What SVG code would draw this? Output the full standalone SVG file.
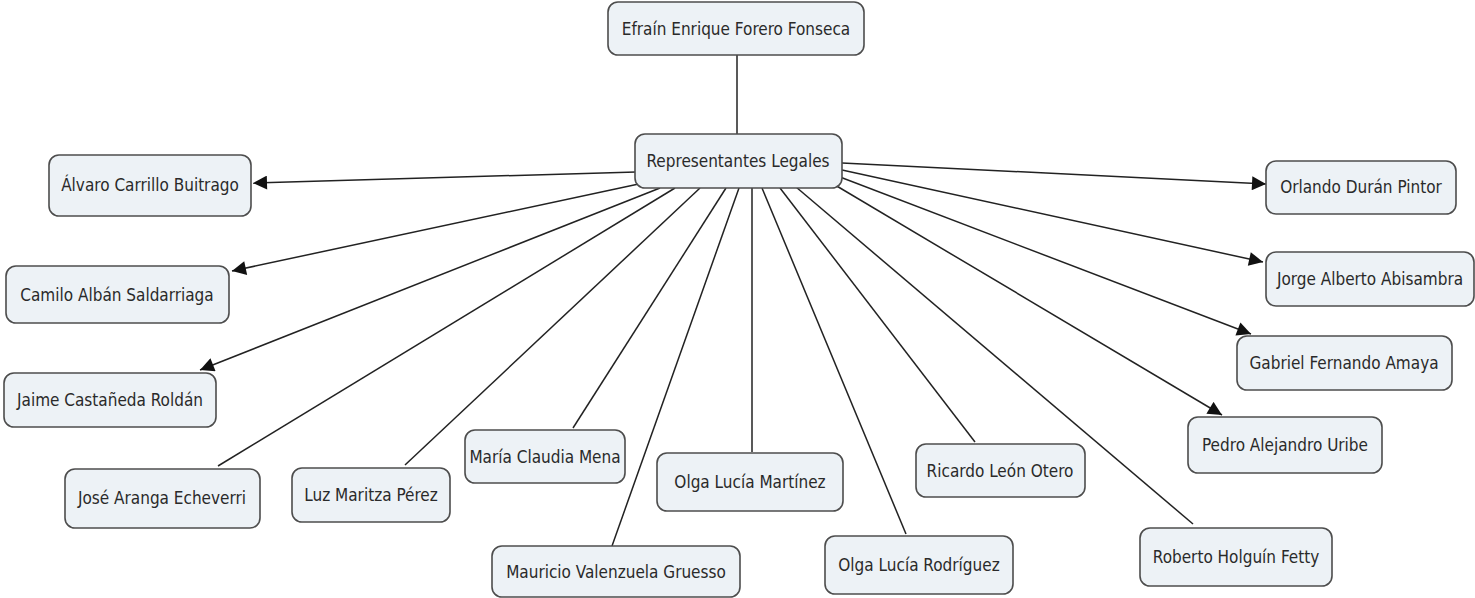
<svg xmlns="http://www.w3.org/2000/svg" width="1475" height="598" viewBox="0 0 1475 598">
<style>
.n rect{fill:#edf2f6;stroke:#4d4d4d;stroke-width:1.6}
.n text{font-family:"DejaVu Sans Condensed","DejaVu Sans",sans-serif;font-size:17px;fill:#2a2a2a;text-anchor:middle;dominant-baseline:central}
.c line{stroke:#222;stroke-width:1.5}
</style>
<defs>
<marker id="ah" viewBox="0 0 10 10" refX="10" refY="5" markerWidth="15" markerHeight="14" markerUnits="userSpaceOnUse" orient="auto">
<path d="M0,0 L10,5 L0,10 z" fill="#111"/>
</marker>
</defs>
<rect width="1475" height="598" fill="#fff"/>
<g id="connectors" class="c">
<line x1="737" y1="55" x2="737" y2="134"/>
<line x1="636" y1="172" x2="253" y2="183" marker-end="url(#ah)"/>
<line x1="648" y1="182" x2="232" y2="271" marker-end="url(#ah)"/>
<line x1="660" y1="188" x2="200" y2="370" marker-end="url(#ah)"/>
<line x1="675" y1="188" x2="218" y2="466"/>
<line x1="700" y1="188" x2="405" y2="465"/>
<line x1="726" y1="188" x2="573" y2="428"/>
<line x1="739" y1="188" x2="612" y2="546"/>
<line x1="752" y1="188" x2="752" y2="452"/>
<line x1="762" y1="188" x2="906" y2="534"/>
<line x1="780" y1="188" x2="975" y2="442"/>
<line x1="796" y1="187" x2="1193" y2="524"/>
<line x1="830" y1="182" x2="1222" y2="415" marker-end="url(#ah)"/>
<line x1="840" y1="177" x2="1251" y2="334" marker-end="url(#ah)"/>
<line x1="842" y1="170" x2="1263" y2="262" marker-end="url(#ah)"/>
<line x1="842" y1="163" x2="1266" y2="184" marker-end="url(#ah)"/>
</g>
<g id="n-efrain" class="n"><rect x="608" y="2" width="256" height="53" rx="10"/><text x="736" y="29">Efraín Enrique Forero Fonseca</text></g>
<g id="n-representantes" class="n"><rect x="635" y="134" width="207" height="54" rx="10"/><text x="738" y="161">Representantes Legales</text></g>
<g id="n-alvaro" class="n"><rect x="49" y="155" width="202" height="61" rx="10"/><text x="150" y="185">Álvaro Carrillo Buitrago</text></g>
<g id="n-camilo" class="n"><rect x="6" y="266" width="223" height="57" rx="10"/><text x="117" y="295">Camilo Albán Saldarriaga</text></g>
<g id="n-jaime" class="n"><rect x="4" y="373" width="212" height="54" rx="10"/><text x="110" y="400">Jaime Castañeda Roldán</text></g>
<g id="n-jose" class="n"><rect x="65" y="469" width="195" height="59" rx="10"/><text x="162" y="498">José Aranga Echeverri</text></g>
<g id="n-luz" class="n"><rect x="292" y="468" width="158" height="54" rx="10"/><text x="371" y="495">Luz Maritza Pérez</text></g>
<g id="n-maria" class="n"><rect x="465" y="430" width="160" height="53" rx="10"/><text x="545" y="457">María Claudia Mena</text></g>
<g id="n-olga-m" class="n"><rect x="657" y="453" width="186" height="58" rx="10"/><text x="750" y="482">Olga Lucía Martínez</text></g>
<g id="n-mauricio" class="n"><rect x="492" y="546" width="248" height="51" rx="10"/><text x="616" y="572">Mauricio Valenzuela Gruesso</text></g>
<g id="n-olga-r" class="n"><rect x="825" y="536" width="188" height="58" rx="10"/><text x="919" y="565">Olga Lucía Rodríguez</text></g>
<g id="n-ricardo" class="n"><rect x="916" y="444" width="169" height="53" rx="10"/><text x="1000" y="471">Ricardo León Otero</text></g>
<g id="n-roberto" class="n"><rect x="1140" y="528" width="192" height="58" rx="10"/><text x="1236" y="557">Roberto Holguín Fetty</text></g>
<g id="n-pedro" class="n"><rect x="1188" y="417" width="194" height="56" rx="10"/><text x="1285" y="445">Pedro Alejandro Uribe</text></g>
<g id="n-gabriel" class="n"><rect x="1237" y="336" width="215" height="54" rx="10"/><text x="1344" y="363">Gabriel Fernando Amaya</text></g>
<g id="n-jorge" class="n"><rect x="1266" y="252" width="208" height="54" rx="10"/><text x="1370" y="279">Jorge Alberto Abisambra</text></g>
<g id="n-orlando" class="n"><rect x="1266" y="161" width="190" height="53" rx="10"/><text x="1361" y="187">Orlando Durán Pintor</text></g>
</svg>
